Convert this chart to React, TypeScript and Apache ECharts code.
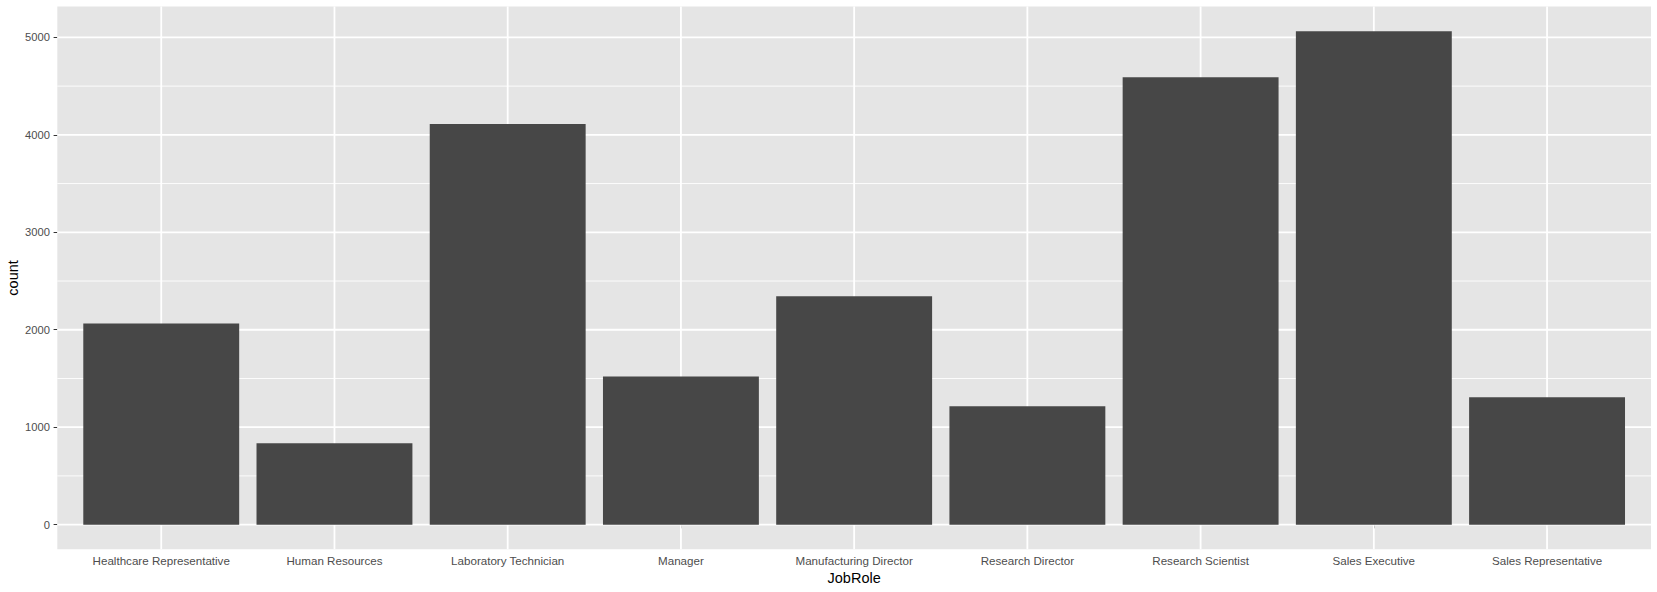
import React, { useEffect, useRef } from "react";
import * as echarts from "echarts";

const categories = [
  "Healthcare Representative",
  "Human Resources",
  "Laboratory Technician",
  "Manager",
  "Manufacturing Director",
  "Research Director",
  "Research Scientist",
  "Sales Executive",
  "Sales Representative",
];
const counts = [2065, 834, 4112, 1521, 2343, 1214, 4591, 5064, 1306];
const yMajorTicks = [0, 1000, 2000, 3000, 4000, 5000];
const yMinorTicks = [500, 1500, 2500, 3500, 4500];

const FONT = "'Liberation Sans', Arial, Helvetica, sans-serif";

export default function App() {
  const ref = useRef<HTMLDivElement>(null);
  useEffect(() => {
    if (!ref.current) return;
    const chart = echarts.init(ref.current, undefined, { renderer: "svg" });
    const positions = categories.map((_, i) => i + 1);
    const barData = categories.map((c, i) => [positions[i], counts[i]]);
    const gridData: any[] = [];
    positions.forEach((p) => gridData.push([p, 0, 0]));
    yMajorTicks.forEach((v) => gridData.push([0, v, 1]));
    yMinorTicks.forEach((v) => gridData.push([0, v, 2]));

    chart.setOption({
      animation: false,
      backgroundColor: "#ffffff",
      grid: {
        left: 57.3,
        right: 6,
        top: 6.5,
        bottom: 42.7,
        show: true,
        backgroundColor: "#E5E5E5",
        borderWidth: 0,
        containLabel: false,
        outerBoundsMode: "none",
      },
      xAxis: {
        type: "value",
        min: 0.4,
        max: 9.6,
        name: "JobRole",
        nameLocation: "middle",
        nameGap: 21,
        nameMoveOverlap: false,
        nameTextStyle: {
          color: "#000000",
          fontSize: 14.5,
          fontFamily: FONT,
          verticalAlign: "top",
        },
        axisLine: { show: false },
        splitLine: { show: false },
        axisTick: {
          show: true,
          customValues: positions,
          length: 3.7,
          lineStyle: { color: "#333333", width: 1 },
        },
        axisLabel: {
          customValues: positions,
          margin: 5,
          color: "#4D4D4D",
          fontSize: 11.6,
          fontFamily: FONT,
          formatter: (v: number) => categories[Math.round(v) - 1] ?? "",
        },
      },
      yAxis: {
        type: "value",
        min: -253,
        max: 5317,
        name: "count",
        nameLocation: "middle",
        nameRotate: 90,
        nameGap: 37,
        nameMoveOverlap: false,
        nameTextStyle: {
          color: "#000000",
          fontSize: 14.5,
          fontFamily: FONT,
        },
        axisLine: { show: false },
        splitLine: { show: false },
        axisTick: {
          show: true,
          customValues: yMajorTicks,
          length: 3.7,
          lineStyle: { color: "#333333", width: 1 },
        },
        axisLabel: {
          customValues: yMajorTicks,
          margin: 7.3,
          color: "#4D4D4D",
          fontSize: 11.2,
          fontFamily: FONT,
          formatter: (v: number) => String(v),
        },
      },
      series: [
        {
          type: "custom",
          z: 1,
          silent: true,
          data: gridData,
          renderItem: (params: any, api: any) => {
            const cs = params.coordSys;
            const kind = api.value(2);
            if (kind === 0) {
              const p = api.coord([api.value(0), 0]);
              return {
                type: "line",
                shape: { x1: p[0], y1: cs.y, x2: p[0], y2: cs.y + cs.height },
                style: { stroke: "#ffffff", lineWidth: 1.8 },
              };
            }
            const p = api.coord([1, api.value(1)]);
            return {
              type: "line",
              shape: { x1: cs.x, y1: p[1], x2: cs.x + cs.width, y2: p[1] },
              style: { stroke: "#ffffff", lineWidth: kind === 1 ? 1.8 : 0.9 },
            };
          },
        },
        {
          type: "custom",
          z: 2,
          data: barData,
          renderItem: (params: any, api: any) => {
            const x = api.value(0);
            const y = api.value(1);
            const p0 = api.coord([x - 0.45, y]);
            const p1 = api.coord([x + 0.45, 0]);
            return {
              type: "rect",
              shape: {
                x: p0[0],
                y: p0[1],
                width: p1[0] - p0[0],
                height: p1[1] - p0[1],
              },
              style: { fill: "#474747" },
            };
          },
        },
      ],
    });
    return () => chart.dispose();
  }, []);

  return (
    <div
      ref={ref}
      style={{ position: "fixed", left: 0, top: 0, width: 1657, height: 592 }}
    />
  );
}
